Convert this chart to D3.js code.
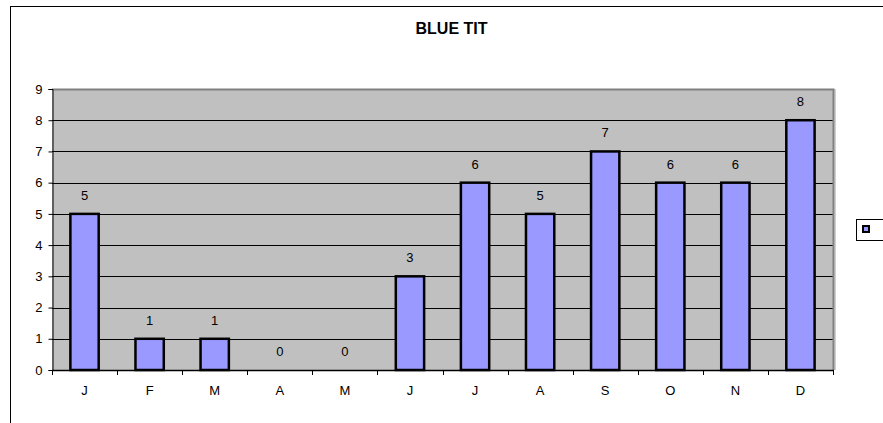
<!DOCTYPE html>
<html><head><meta charset="utf-8">
<script src="https://cdn.jsdelivr.net/npm/d3@7"></script>
<style>body{margin:0;background:#fff}svg{display:block}text{font-family:"Liberation Sans",Arial,sans-serif;fill:#000}</style>
</head><body><svg id="c" width="883" height="423"></svg>
<script>
const months = ["J","F","M","A","M","J","J","A","S","O","N","D"];
const values = [5,1,1,0,0,3,6,5,7,6,6,8];
const yTicks = [0,1,2,3,4,5,6,7,8,9];
const title = "BLUE TIT";

const svg = d3.select("#c");
const L = 52, R = 833, T = 89, B = 370;
svg.append("rect").attr("x",10.5).attr("y",6.5).attr("width",950).attr("height",500)
  .attr("fill","#fff").attr("stroke","#000").attr("stroke-width",1);
svg.append("text").attr("x",451.5).attr("y",34).attr("text-anchor","middle")
  .style("font-size","16px").style("font-weight","bold").text(title);

const x = d3.scaleBand().domain(d3.range(months.length)).range([L,R]).paddingInner(0.565).paddingOuter(0.2825);
const xc = d3.scaleBand().domain(d3.range(months.length)).range([L,R]);
const y = d3.scaleLinear().domain([0,9]).range([B,T]);

svg.append("rect").attr("x",L).attr("y",T).attr("width",R-L).attr("height",B-T).attr("fill","#C0C0C0");
// gridlines
svg.append("g").selectAll("line").data(yTicks.filter(d=>d>0&&d<9)).join("line")
  .attr("x1",L).attr("x2",R).attr("y1",d=>Math.round(y(d))+0.5).attr("y2",d=>Math.round(y(d))+0.5)
  .attr("stroke","#000").attr("stroke-width",1);
// plot border (gray)
svg.append("path").attr("d",`M${L},${T+0.5}H${R+0.5}V${B}`).attr("fill","none").attr("stroke","#808080").attr("stroke-width",2);
svg.append("line").attr("x1",R+2).attr("x2",R+2).attr("y1",T).attr("y2",B).attr("stroke","#a0a0a0").attr("stroke-width",1);

// bars
svg.append("g").selectAll("rect").data(values).join("rect")
  .attr("x",(d,i)=>x(i)).attr("width",x.bandwidth())
  .attr("y",d=>y(d)).attr("height",d=>B-y(d))
  .attr("fill","#9999FF").attr("stroke","#000").attr("stroke-width",2.5)
  .style("display",d=>d>0?null:"none");
// labels
svg.append("g").selectAll("text").data(values).join("text")
  .attr("x",(d,i)=>x(i)+x.bandwidth()/2).attr("y",d=>y(d)-14)
  .attr("text-anchor","middle").style("font-size","13px").text(d=>d);

// y axis
const ya = d3.axisLeft(y).tickValues(yTicks).tickSize(4).tickPadding(6);
const gy = svg.append("g").attr("transform",`translate(${L+0.5},0)`).call(ya);
gy.select(".domain").attr("stroke","#000");
gy.selectAll("text").style("font-size","13px").style("font-family","Liberation Sans, Arial, sans-serif");
// x axis
svg.append("line").attr("x1",L).attr("x2",R+1).attr("y1",B+0.5).attr("y2",B+0.5).attr("stroke","#000").attr("stroke-width",1.5);
svg.append("g").selectAll("line").data(d3.range(months.length+1)).join("line")
  .attr("x1",i=>Math.round(L+i*xc.step())+0.5).attr("x2",i=>Math.round(L+i*xc.step())+0.5)
  .attr("y1",B).attr("y2",B+5).attr("stroke","#000");
svg.append("g").selectAll("text").data(months).join("text")
  .attr("x",(d,i)=>xc(i)+xc.bandwidth()/2).attr("y",395).attr("text-anchor","middle")
  .style("font-size","13px").text(d=>d);

// legend
svg.append("rect").attr("x",856.5).attr("y",219.5).attr("width",60).attr("height",21).attr("fill","#fff").attr("stroke","#000");
svg.append("rect").attr("x",863).attr("y",226).attr("width",6).attr("height",6).attr("fill","#9999FF").attr("stroke","#000").attr("stroke-width",2);
</script></body></html>
